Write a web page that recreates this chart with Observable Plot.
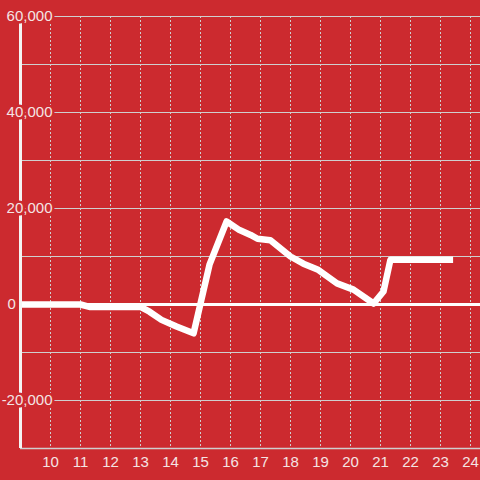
<!DOCTYPE html>
<html>
<head>
<meta charset="utf-8">
<script src="https://cdn.jsdelivr.net/npm/d3@7"></script>
<script src="https://cdn.jsdelivr.net/npm/@observablehq/plot@0.6"></script>
<style>
  html, body { margin: 0; padding: 0; background: #cc2a2f; }
  #chart { width: 480px; height: 480px; }
</style>
</head>
<body>
<div id="chart"></div>
<script>
// Series (x = hour-like position, y = value)
const xs = [9, 11, 11.3, 13, 13.3, 13.7, 14.2, 14.77, 15.3, 15.87, 16.3, 16.67, 16.9, 17.33, 18, 18.43, 18.9, 19.55, 20.1, 20.77, 21.1, 21.33, 23.42];
const ys = [0, 0, -500, -500, -1500, -3200, -4600, -6000, 8300, 17300, 15500, 14500, 13700, 13400, 10000, 8500, 7300, 4400, 3100, 200, 2700, 9300, 9300];

// Axis ticks
const xTicks = [10, 11, 12, 13, 14, 15, 16, 17, 18, 19, 20, 21, 22, 23, 24];
const yGrid = [-30000, -20000, -10000, 10000, 20000, 30000, 40000, 50000, 60000];
const yTickValues = [-20000, 0, 20000, 40000, 60000];
const yTickLabels = ["-20,000", "0", "20,000", "40,000", "60,000"];

const bg = "#cc2a2f";
const labelColor = "#f4e4e4";
const gridColor = "#cfcfcf";

const data = xs.map((x, i) => ({x, y: ys[i]}));
const yLabels = yTickValues.map((v, i) => ({v, label: yTickLabels[i]}));

const chart = Plot.plot({
  width: 480,
  height: 480,
  marginLeft: 20,
  marginRight: 0,
  marginTop: 16,
  marginBottom: 32,
  style: {background: bg, fontFamily: "'Liberation Sans', Arial, sans-serif", fontSize: "15px"},
  x: {domain: [9, 24 + 1/3], axis: null},
  y: {domain: [-30000, 60000], axis: null},
  marks: [
    Plot.ruleY(yGrid, {stroke: gridColor, strokeWidth: 1}),
    Plot.ruleX(xTicks, {stroke: gridColor, strokeWidth: 1, strokeDasharray: "2,2"}),
    Plot.ruleY([-30000], {stroke: gridColor, strokeWidth: 1.5}),
    Plot.ruleY([0], {stroke: "white", strokeWidth: 3}),
    Plot.line(data, {x: "x", y: "y", stroke: "white", strokeWidth: 6.5, strokeLinejoin: "round", strokeLinecap: "butt"}),
    Plot.ruleX([9], {stroke: "#f4f4f4", strokeWidth: 3}),
    Plot.text(yLabels.filter(d => d.v !== 0), {x: () => 9, y: "v", text: "label", textAnchor: "end", dx: 32, fill: labelColor, stroke: bg, strokeWidth: 5, lineAnchor: "middle"}),
    Plot.text(yLabels.filter(d => d.v === 0), {x: () => 9, y: "v", text: "label", textAnchor: "start", dx: -13, fill: labelColor, stroke: bg, strokeWidth: 5, lineAnchor: "middle"}),
    Plot.axisX(xTicks, {tickSize: 0, tickPadding: 8, fill: labelColor, color: labelColor, fontSize: 15, label: null})
  ]
});
document.getElementById("chart").appendChild(chart);
</script>
</body>
</html>
